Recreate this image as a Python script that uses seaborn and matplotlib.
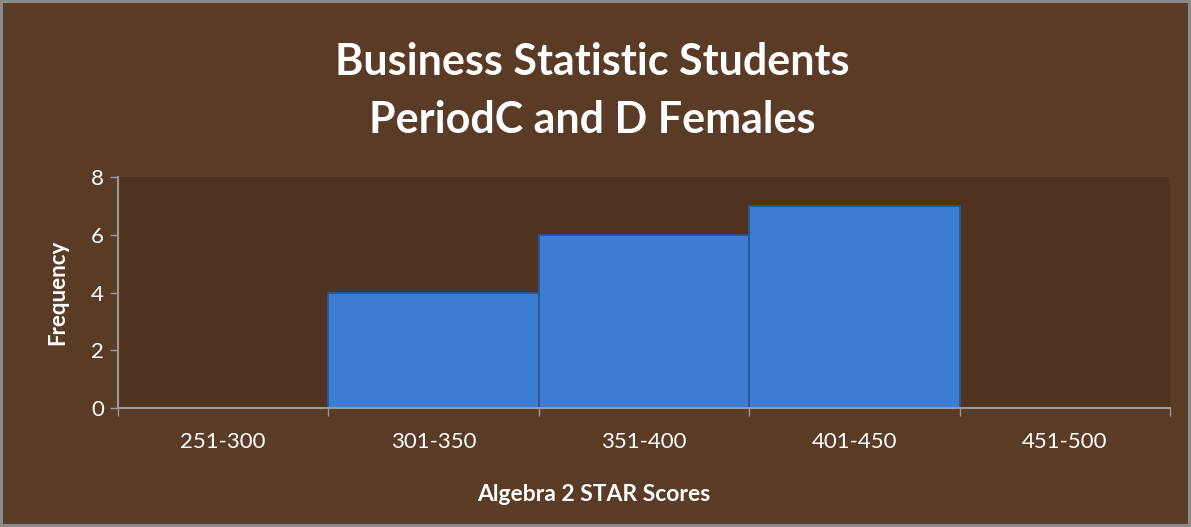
import matplotlib
matplotlib.use("Agg")
import matplotlib.pyplot as plt
import seaborn as sns
import pandas as pd

# data
score_bins = ['251-300', '301-350', '351-400', '401-450', '451-500']
frequency = [0, 4, 6, 7, 0]

sns.set_theme(style="white")
plt.rcParams['font.family'] = ['Lato', 'DejaVu Sans']

df = pd.DataFrame({'bin': score_bins, 'freq': frequency})

bg = '#5a3b25'
fig = plt.figure(figsize=(11.91, 5.27), dpi=100)
fig.patch.set_facecolor(bg)
fig.patch.set_edgecolor('#8a8a8a')
fig.patch.set_linewidth(3)

ax = fig.add_axes([0.0991, 0.2258, 0.8833, 0.4382])
ax.set_facecolor('#4f3320')

sns.barplot(data=df, x='bin', y='freq', color='#3c7cd2', width=1.0,
            edgecolor='#2a568f', linewidth=1.3, saturation=1, ax=ax)

ax.set_ylim(0, 8)
ax.set_xlim(-0.5, len(score_bins) - 0.5)
ax.set_yticks([0, 2, 4, 6, 8])

# category boundaries get the tick marks, labels sit in the middle
ax.set_xticks([i - 0.5 for i in range(len(score_bins) + 1)], minor=True)
ax.tick_params(axis='x', which='major', length=0, pad=17, labelsize=16, colors='white')
ax.tick_params(axis='x', which='minor', length=6, width=1, color='#9a9a9a', bottom=True)
ax.tick_params(axis='y', length=6, width=1, color='#9a9a9a', labelsize=16,
               labelcolor='white', left=True, pad=4)

for s in ['top', 'right']:
    ax.spines[s].set_visible(False)
for s in ['left', 'bottom']:
    ax.spines[s].set_color('#9a9a9a')
    ax.spines[s].set_linewidth(1.5)

ax.set_xlabel('Algebra 2 STAR Scores', fontsize=16.5, fontweight='bold', color='white')
ax.xaxis.set_label_coords(0.452, -0.33)
ax.set_ylabel('Frequency', fontsize=16, fontweight='bold', color='white')
ax.yaxis.set_label_coords(-0.047, 0.5)

fig.suptitle('Business Statistic Students\nPeriodC and D Females', x=0.497, y=0.92,
             fontsize=31, fontweight='bold', color='white', linespacing=1.55)

fig.savefig('out.png', dpi=100, facecolor=fig.get_facecolor(), edgecolor=fig.get_edgecolor())
